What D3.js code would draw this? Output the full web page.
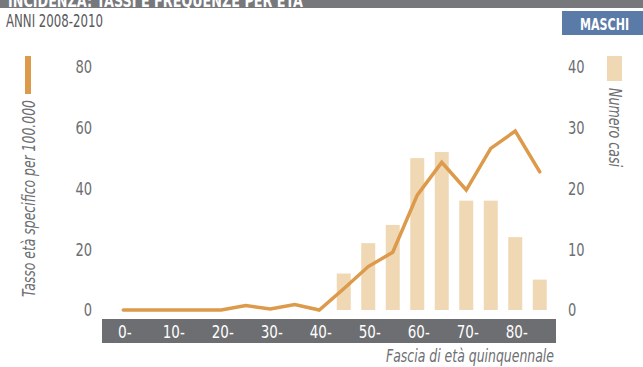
<!DOCTYPE html>
<html>
<head>
<meta charset="utf-8">
<script src="https://cdn.jsdelivr.net/npm/d3@7"></script>
<style>
  html, body { margin: 0; padding: 0; background: #fff; }
  svg { display: block; }
  text { font-family: "DejaVu Sans Condensed", "Liberation Sans", sans-serif; }
</style>
</head>
<body>
<svg id="chart" width="643" height="367"></svg>
<script>
const categories = ["0-4","5-9","10-14","15-19","20-24","25-29","30-34","35-39","40-44","45-49","50-54","55-59","60-64","65-69","70-74","75-79","80-84","85+"];
const tickCategories = ["0-4","10-14","20-24","30-34","40-44","50-54","60-64","70-74","80-84"];
const tickLabels = ["0-","10-","20-","30-","40-","50-","60-","70-","80-"];
const rateValues = [0,0,0,0,0,1.5,0.3,1.8,0,7,14.3,19,37.8,48.6,39.5,53.2,58.9,45.5];
const caseValues = [0,0,0,0,0,0,0,0,0,6,11,14,25,26,18,18,12,5];
const rateTicks = [0,20,40,60,80];
const caseTicks = [0,10,20,30,40];

const svg = d3.select("#chart");
const W = 643, H = 367;
const orange = "#dc9a4a", sand = "#efd8b3", grayBar = "#6d6e71", txt = "#6d6e71";

// width of a condensed label: digits ~8.3px, hyphen ~5.4px at 18px
function labelWidth(s) {
  let w = 0;
  for (const ch of s) w += (ch === "-") ? 5.4 : 8.3;
  return w;
}
function fit(sel, w) { return sel.attr("textLength", w).attr("lengthAdjust", "spacingAndGlyphs"); }

// header bar
svg.append("rect").attr("x",0).attr("y",0).attr("width",W).attr("height",8).attr("fill","#77787b");
svg.append("clipPath").attr("id","hdr").append("rect").attr("x",0).attr("y",0).attr("width",W).attr("height",8);
fit(svg.append("text").attr("clip-path","url(#hdr)").attr("x",8).attr("y",7)
  .attr("fill","#fff").attr("font-weight","bold").attr("font-size",18)
  .text("INCIDENZA: TASSI E FREQUENZE PER ETÀ"), 295);

fit(svg.append("text").attr("x",6).attr("y",27).attr("fill","#58595b").attr("font-size",17)
  .text("ANNI 2008-2010"), 97);

// MASCHI box
svg.append("rect").attr("x",562).attr("y",11).attr("width",81).attr("height",24).attr("fill","#5a7aa8");
fit(svg.append("text").attr("x",580).attr("y",29.5).attr("fill","#fff")
  .attr("font-weight","bold").attr("font-size",15).text("MASCHI"), 49);

// scales
const x = d3.scaleBand().domain(categories).range([111,552]).paddingInner(0.43).paddingOuter(0.215);
const yRate = d3.scaleLinear().domain([0,80]).range([310,67]);
const yCases = d3.scaleLinear().domain([0,40]).range([310,67]);

// bars
svg.append("g").selectAll("rect").data(categories.map((c,i)=>({c, v: caseValues[i]})).filter(d=>d.v>0))
  .join("rect")
  .attr("x", d=>x(d.c)).attr("width", x.bandwidth())
  .attr("y", d=>yCases(d.v)).attr("height", d=>yCases(0)-yCases(d.v))
  .attr("fill", sand);

// line
const line = d3.line().x((d,i)=>x(categories[i])+x.bandwidth()/2).y(d=>yRate(d));
svg.append("path").datum(rateValues).attr("d", line).attr("fill","none")
  .attr("stroke", orange).attr("stroke-width",3.5).attr("stroke-linejoin","miter").attr("stroke-linecap","round");

// left axis
const gl = svg.append("g").attr("transform","translate(96,0)")
  .call(d3.axisLeft(yRate).tickValues(rateTicks).tickSize(0).tickPadding(4));
gl.select(".domain").remove();
gl.selectAll("text").attr("fill",txt).attr("font-size",18).attr("font-family",null)
  .each(function(){ const t = d3.select(this); fit(t, labelWidth(t.text())); });

// right axis
const gr = svg.append("g").attr("transform","translate(567,0)")
  .call(d3.axisRight(yCases).tickValues(caseTicks).tickSize(0).tickPadding(1));
gr.select(".domain").remove();
gr.selectAll("text").attr("fill",txt).attr("font-size",18).attr("font-family",null)
  .each(function(){ const t = d3.select(this); fit(t, labelWidth(t.text())); });

// bottom band axis
svg.append("rect").attr("x",102).attr("y",319).attr("width",454).attr("height",24).attr("fill",grayBar);
const gb = svg.append("g").attr("transform","translate(0,319)")
  .call(d3.axisBottom(x).tickValues(tickCategories).tickSize(0).tickPadding(0)
    .tickFormat(d=>tickLabels[tickCategories.indexOf(d)]));
gb.select(".domain").remove();
gb.selectAll("text").attr("fill","#fff").attr("font-size",18).attr("font-family",null)
  .attr("dy",null).attr("y",19).attr("dx",1.5)
  .each(function(){ const t = d3.select(this); fit(t, labelWidth(t.text())); });

fit(svg.append("text").attr("x",386).attr("y",362).attr("fill",txt)
  .attr("font-style","italic").attr("font-size",17).text("Fascia di età quinquennale"), 168);

// left legend
svg.append("rect").attr("x",25).attr("y",56).attr("width",6).attr("height",38).attr("fill",orange);
fit(svg.append("text").attr("transform","translate(35,297) rotate(-90)").attr("fill",txt)
  .attr("font-style","italic").attr("font-size",17).text("Tasso età specifico per 100.000"), 197);

// right legend
svg.append("rect").attr("x",607).attr("y",56).attr("width",15).attr("height",25).attr("fill",sand);
fit(svg.append("text").attr("transform","translate(609,88) rotate(90)").attr("fill",txt)
  .attr("font-style","italic").attr("font-size",17).text("Numero casi"), 79);
</script>
</body>
</html>
